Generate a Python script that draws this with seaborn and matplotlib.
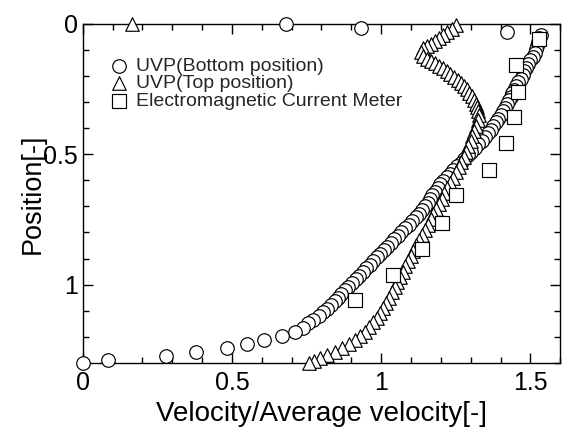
import matplotlib
matplotlib.use("Agg")
import matplotlib.pyplot as plt
import seaborn as sns
import pandas as pd
from matplotlib.ticker import MultipleLocator

# UVP (bottom position): velocity / average velocity, position
bottom_vel = [0.682, 0.933, 1.421, 1.535, 1.530, 1.526, 1.522, 1.518, 1.514, 1.508,
              1.500, 1.492, 1.486, 1.480, 1.474, 1.468, 1.460, 1.452, 1.446, 1.440,
              1.434, 1.428, 1.422, 1.416, 1.408, 1.400, 1.392, 1.384, 1.376, 1.368,
              1.358, 1.348, 1.338, 1.326, 1.314, 1.302, 1.290, 1.278, 1.266, 1.254,
              1.242, 1.230, 1.219, 1.208, 1.198, 1.189, 1.180, 1.172, 1.164, 1.156,
              1.147, 1.138, 1.128, 1.116, 1.104, 1.092, 1.080, 1.068, 1.056, 1.044,
              1.032, 1.020, 1.008, 0.996, 0.985, 0.974, 0.962, 0.950, 0.938, 0.926,
              0.914, 0.902, 0.890, 0.878, 0.866, 0.855, 0.844, 0.832, 0.820, 0.806,
              0.790, 0.772, 0.754, 0.737, 0.712, 0.668, 0.608, 0.552, 0.485, 0.378,
              0.280, 0.084, 0.000]
bottom_pos = [0.000, 0.015, 0.031, 0.042, 0.056, 0.070, 0.084, 0.098, 0.112, 0.126,
              0.140, 0.154, 0.168, 0.182, 0.196, 0.210, 0.224, 0.238, 0.252, 0.266,
              0.280, 0.294, 0.308, 0.322, 0.336, 0.350, 0.364, 0.378, 0.392, 0.406,
              0.420, 0.434, 0.448, 0.462, 0.476, 0.490, 0.504, 0.518, 0.532, 0.546,
              0.560, 0.574, 0.588, 0.602, 0.616, 0.630, 0.644, 0.658, 0.672, 0.686,
              0.700, 0.714, 0.728, 0.742, 0.756, 0.770, 0.784, 0.798, 0.812, 0.826,
              0.840, 0.854, 0.868, 0.882, 0.896, 0.910, 0.924, 0.938, 0.952, 0.966,
              0.980, 0.994, 1.008, 1.022, 1.036, 1.050, 1.064, 1.078, 1.092, 1.106,
              1.120, 1.134, 1.148, 1.165, 1.183, 1.198, 1.213, 1.227, 1.242, 1.258,
              1.273, 1.288, 1.300]

# UVP (top position)
top_vel = [0.164, 1.250, 1.236, 1.221, 1.208, 1.195, 1.180, 1.166, 1.152, 1.140,
           1.134, 1.140, 1.152, 1.166, 1.180, 1.194, 1.207, 1.220, 1.232, 1.244,
           1.256, 1.268, 1.278, 1.288, 1.296, 1.304, 1.312, 1.318, 1.322, 1.326,
           1.328, 1.324, 1.318, 1.312, 1.306, 1.300, 1.292, 1.284, 1.276, 1.268,
           1.260, 1.250, 1.240, 1.230, 1.221, 1.212, 1.203, 1.194, 1.184, 1.175,
           1.166, 1.156, 1.146, 1.136, 1.126, 1.117, 1.108, 1.099, 1.090, 1.081,
           1.072, 1.063, 1.054, 1.045, 1.036, 1.026, 1.016, 1.006, 0.996, 0.985,
           0.973, 0.960, 0.946, 0.930, 0.912, 0.892, 0.870, 0.846, 0.820, 0.795,
           0.776, 0.759]
top_pos = [0.000, 0.006, 0.020, 0.032, 0.044, 0.055, 0.066, 0.076, 0.085, 0.094,
           0.108, 0.122, 0.133, 0.143, 0.152, 0.161, 0.171, 0.181, 0.192, 0.203,
           0.214, 0.226, 0.238, 0.251, 0.264, 0.278, 0.292, 0.306, 0.320, 0.335,
           0.350, 0.370, 0.390, 0.410, 0.430, 0.450, 0.470, 0.490, 0.510, 0.530,
           0.550, 0.570, 0.590, 0.610, 0.630, 0.650, 0.670, 0.690, 0.710, 0.730,
           0.750, 0.770, 0.790, 0.810, 0.830, 0.850, 0.870, 0.890, 0.910, 0.930,
           0.950, 0.970, 0.990, 1.010, 1.030, 1.050, 1.070, 1.090, 1.110, 1.128,
           1.145, 1.162, 1.180, 1.197, 1.213, 1.228, 1.243, 1.257, 1.270, 1.282,
           1.291, 1.300]

# Electromagnetic current meter
em_vel = [1.528, 1.452, 1.458, 1.445, 1.418, 1.361, 1.251, 1.204, 1.137, 1.040, 0.913]
em_pos = [0.058, 0.158, 0.262, 0.358, 0.458, 0.562, 0.658, 0.762, 0.862, 0.962, 1.058]

series = [
    ("UVP(Bottom position)", bottom_vel, bottom_pos, "o"),
    ("UVP(Top position)", top_vel, top_pos, "^"),
    ("Electromagnetic Current Meter", em_vel, em_pos, "s"),
]

sns.set_style("ticks")
plt.rcParams["font.family"] = ["Liberation Sans", "DejaVu Sans"]

fig = plt.figure(figsize=(5.67, 4.33), dpi=100)
ax = fig.add_axes([0.146, 0.162, 0.842, 0.783])

for label, xs, ys, mk in series:
    df = pd.DataFrame({"x": xs, "y": ys})
    sns.scatterplot(data=df, x="x", y="y", marker=mk, s=95, facecolor="white",
                    edgecolor="black", linewidth=0.85, ax=ax, label=label,
                    clip_on=False, zorder=3)

ax.set_xlim(0, 1.6)
ax.set_ylim(1.3, 0)
ax.xaxis.set_minor_locator(MultipleLocator(0.1))
ax.yaxis.set_minor_locator(MultipleLocator(0.1))
ax.set_xticks([0, 0.5, 1, 1.5])
ax.set_xticklabels(["0", "0.5", "1", "1.5"])
ax.set_yticks([0, 0.5, 1])
ax.set_yticklabels(["0", "0.5", "1"])

ax.tick_params(which="both", direction="in", top=True, right=True,
               color="black", width=1.0, labelsize=18, labelcolor="black")
ax.tick_params(which="major", length=7)
ax.tick_params(which="minor", length=4)
ax.tick_params(axis="x", pad=6)
for sp in ax.spines.values():
    sp.set_color("black")
    sp.set_linewidth(1.0)

ax.set_xlabel("Velocity/Average velocity[-]", fontsize=20, color="black", labelpad=4)
ax.set_ylabel("Position[-]", fontsize=19.5, color="black", labelpad=-2)

leg = ax.legend(loc="upper left", bbox_to_anchor=(0.04, 0.925), frameon=False,
                fontsize=14, labelspacing=0.0, handletextpad=0.35,
                borderaxespad=0, handlelength=1.0)

fig.savefig("out.png", dpi=100)
